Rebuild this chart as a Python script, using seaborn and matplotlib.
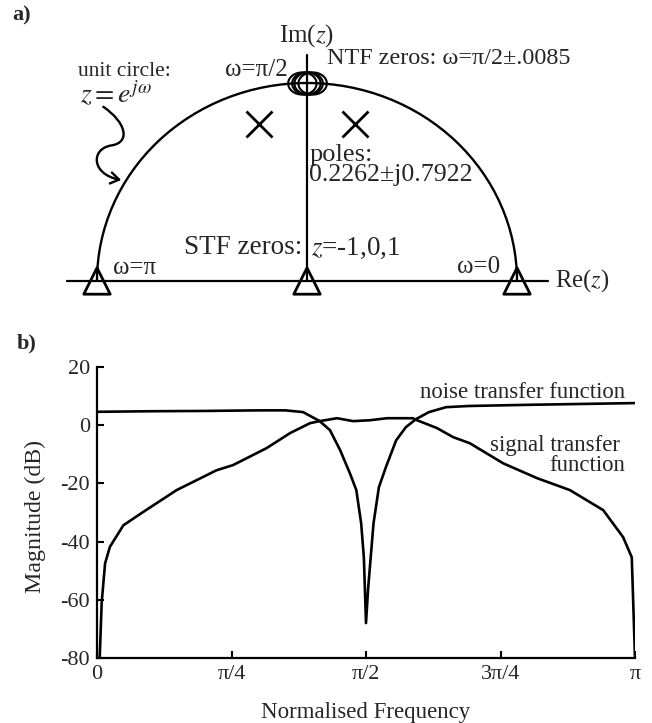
import numpy as np
import seaborn as sns
import matplotlib.pyplot as plt
from matplotlib.patches import Arc, FancyArrowPatch
from matplotlib.path import Path
from matplotlib.transforms import Affine2D

sns.set_theme(style='ticks')
plt.rcParams['font.family'] = ['Liberation Serif', 'DejaVu Serif']
plt.rcParams['mathtext.fontset'] = 'stix'
plt.rcParams['axes.unicode_minus'] = False

# a) pole / zero locations
stf_zeros = [-1.0, 0.0, 1.0]
pole_re = [-0.2262, 0.2262]
pole_im = [0.7922, 0.7922]
ntf_zero_w = [np.pi / 2 - 0.0085, np.pi / 2 + 0.0085]

# b) magnitude responses (frequency in units of pi)
ntf_f = [0.0, 0.1, 0.2, 0.3, 0.35, 0.383, 0.401, 0.414, 0.433, 0.452, 0.470,
         0.482, 0.491, 0.496, 0.500, 0.504, 0.514, 0.524, 0.537, 0.556, 0.574,
         0.593, 0.617, 0.649, 0.691, 0.8, 0.9, 1.0]
ntf_db = [4.6, 4.8, 4.9, 5.1, 5.1, 4.5, 2.7, 1.4, -1.7, -8.6, -16.5,
          -22.3, -33.7, -45.4, -68, -56, -33.7, -21.3, -14.4, -5.2, -0.7,
          2.1, 4.5, 6.2, 6.6, 7.0, 7.3, 7.6]
stf_f = [0.005, 0.0087, 0.015, 0.024, 0.049, 0.086, 0.148, 0.222, 0.253, 0.315,
         0.359, 0.396, 0.414, 0.446, 0.476, 0.507, 0.539, 0.587, 0.595, 0.632,
         0.662, 0.693, 0.755, 0.818, 0.879, 0.941, 0.978, 0.994, 1.0]
stf_db = [-80, -61, -47.5, -41.8, -34.4, -29.8, -22.3, -15.5, -13.7, -7.9,
          -2.7, 0.7, 1.4, 2.4, 1.4, 1.7, 2.4, 2.4, 1.7, -1.0,
          -4.1, -6.2, -13.1, -18.2, -22.3, -29.2, -38.5, -45.4, -80]
freq_ticks = [0, 0.25, 0.5, 0.75, 1.0]
freq_labels = ['0', 'π/4', 'π/2', '3π/4', 'π']
db_ticks = [20, 0, -20, -40, -60, -80]

W, H = 652, 723
fig = plt.figure(figsize=(W / 100, H / 100), dpi=100)

# ---- panel a) z-plane
ax1 = fig.add_axes([0, 1 - 310 / H, 1, 310 / H])
ax1.set_xlim(-307 / 210, 345 / 210)
ax1.set_ylim(-29 / 198, 281 / 198)
ax1.axis('off')

ax1.plot([-1.143, 1.148], [0, 0], color='black', lw=1.6)
ax1.plot([0, 0], [0, 1.14], color='black', lw=1.6)
ax1.add_patch(Arc((0, 0), 2, 2, theta1=0, theta2=180, color='black', lw=1.7))

sns.scatterplot(x=stf_zeros, y=[0] * len(stf_zeros), ax=ax1, marker='^', s=19 ** 2,
                facecolor='none', edgecolor='black', linewidth=2, zorder=5)
ax1.plot(pole_re, pole_im, ls='none', marker='x', ms=19, mew=2, color='black')

# pair of almost coincident zeros drawn as a double circle
ring = Path.unit_circle()
dbl = Path.make_compound_path(
    ring.transformed(Affine2D().scale(1, 0.78).translate(-0.22, 0)),
    ring.transformed(Affine2D().scale(1, 0.78).translate(0.22, 0)))
ax1.plot(np.cos(ntf_zero_w), np.sin(ntf_zero_w), ls='none', marker=dbl, ms=25,
         mfc='none', mec='black', mew=1.5)

# wavy pointer to the unit circle
wave = Path([(-0.97, 0.88), (-0.86, 0.80), (-0.84, 0.70), (-0.93, 0.685),
             (-1.03, 0.67), (-1.03, 0.54), (-0.885, 0.51)],
            [Path.MOVETO, Path.CURVE4, Path.CURVE4, Path.CURVE4,
             Path.CURVE4, Path.CURVE4, Path.CURVE4])
ax1.add_patch(FancyArrowPatch(path=wave, arrowstyle='->,head_length=6,head_width=4',
                              color='black', lw=1.7))

ax1.text(0, 1.24, 'Im($z$)', ha='center', va='center', fontsize=18)
ax1.text(-1.09, 1.056, 'unit circle:', ha='left', va='center', fontsize=15.5)
ax1.text(-1.08, 0.945, '$z = e^{j\\omega}$', ha='left', va='center', fontsize=20)
ax1.text(-0.09, 1.066, 'ω=π/2', ha='right', va='center', fontsize=18)
ax1.text(0.095, 1.126, 'NTF zeros: ω=π/2±.0085', ha='left', va='center', fontsize=17.4)
ax1.text(0.01, 0.636, 'poles:', ha='left', va='center', fontsize=19)
ax1.text(0.01, 0.535, '0.2262±j0.7922', ha='left', va='center', fontsize=18.6)
ax1.text(-0.02, 0.167, 'STF zeros:', ha='right', va='center', fontsize=19.5)
ax1.text(0.02, 0.167, '$z$=-1,0,1', ha='left', va='center', fontsize=19.5)
ax1.text(-0.924, 0.066, 'ω=π', ha='left', va='center', fontsize=18)
ax1.text(0.919, 0.07, 'ω=0', ha='right', va='center', fontsize=18)
ax1.text(1.18, 0.0, 'Re($z$)', ha='left', va='center', fontsize=17.7)
fig.text(12 / W, 1 - 15 / H, 'a)', ha='left', va='center', fontsize=16, fontweight='bold')

# ---- panel b) magnitude responses
ax2 = fig.add_axes([97 / W, 1 - 658 / H, 538 / W, 291 / H])
sns.lineplot(x=ntf_f, y=ntf_db, ax=ax2, color='black', lw=1.9, sort=False, estimator=None)
sns.lineplot(x=stf_f, y=stf_db, ax=ax2, color='black', lw=1.9, sort=False, estimator=None)
ax2.set_xlim(0, 1)
ax2.set_ylim(-80, 20)
sns.despine(ax=ax2)
for s in ['left', 'bottom']:
    ax2.spines[s].set_linewidth(1.6)
    ax2.spines[s].set_color('black')
ax2.set_xticks(freq_ticks)
ax2.set_xticklabels(freq_labels)
ax2.set_yticks(db_ticks)
ax2.tick_params(direction='in', length=5, width=1.5, labelsize=16, color='black', pad=5)
ax2.set_xlabel('Normalised Frequency', fontsize=16.5, labelpad=13)
ax2.set_ylabel('Magnitude (dB)', fontsize=17.2, labelpad=8)
ax2.yaxis.set_label_coords(-0.095, 0.485)

ax2.text(0.981, 11.3, 'noise transfer function', ha='right', va='center', fontsize=16.4)
ax2.text(0.972, -6.9, 'signal transfer', ha='right', va='center', fontsize=16.4)
ax2.text(0.981, -13.7, 'function', ha='right', va='center', fontsize=16.4)
fig.text(17 / W, 1 - 343 / H, 'b)', ha='left', va='center', fontsize=16, fontweight='bold')

fig.savefig('out.png', dpi=100)
